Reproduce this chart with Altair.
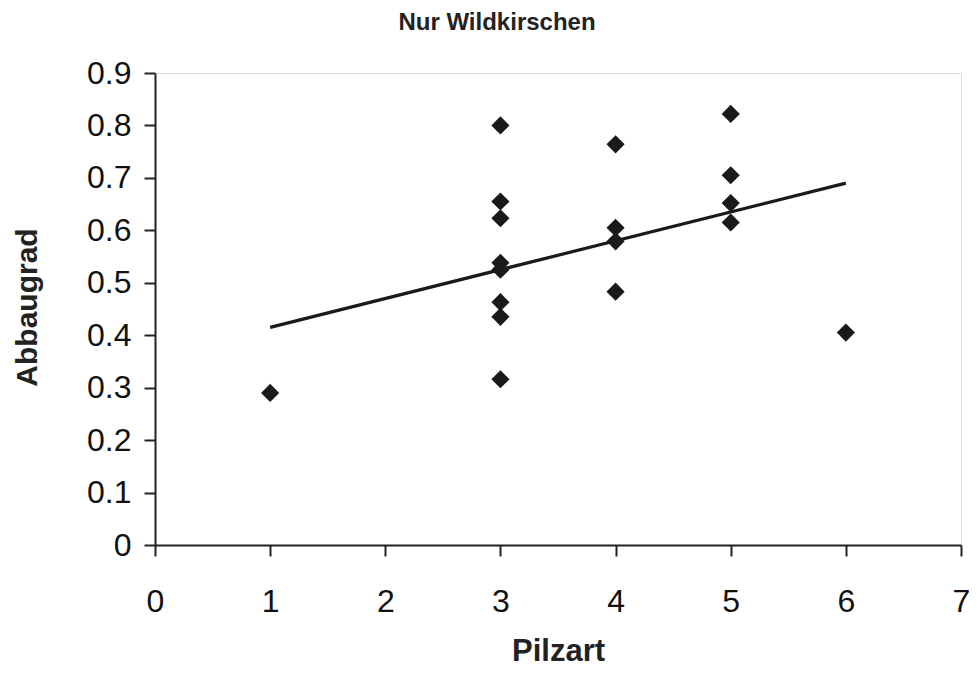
import altair as alt
import pandas as pd

pilzart = [1, 3, 3, 3, 3, 3, 3, 3, 3, 4, 4, 4, 4, 5, 5, 5, 5, 6]
abbaugrad = [0.29, 0.80, 0.655, 0.623, 0.538, 0.525, 0.463, 0.435, 0.316,
             0.764, 0.605, 0.579, 0.483, 0.822, 0.705, 0.652, 0.615, 0.405]
trend_x = [1, 6]
trend_y = [0.415, 0.69]

pts = pd.DataFrame({"Pilzart": pilzart, "Abbaugrad": abbaugrad})
trend = pd.DataFrame({"Pilzart": trend_x, "Abbaugrad": trend_y})

FONT = "Liberation Sans"
W, H = 806, 472

xscale = alt.Scale(domain=[0, 7], nice=False, zero=True)
yscale = alt.Scale(domain=[0, 0.9], nice=False, zero=True)

xaxis = alt.Axis(title="Pilzart", values=list(range(0, 8)), format="d", grid=False,
                 domainColor="#222", domainWidth=2, tickColor="#222", tickWidth=2, tickSize=11,
                 labelFont=FONT, labelFontSize=32, labelColor="#111", labelPadding=30,
                 labelFlush=False, titleFont=FONT, titleFontSize=31, titleFontWeight="bold",
                 titleColor="#222", titleX=W / 2, titleY=106, titleBaseline="middle",
                 titleAlign="center")
yaxis = alt.Axis(title="Abbaugrad", values=[i / 10 for i in range(0, 10)], format=".1~f",
                 grid=False, domainColor="#222", domainWidth=2, tickColor="#222", tickWidth=2,
                 tickSize=11, labelFont=FONT, labelFontSize=32, labelColor="#111", labelPadding=13,
                 labelFlush=False, titleFont=FONT, titleFontSize=30, titleFontWeight="bold",
                 titleColor="#222", titleX=-128, titleY=H / 2 - 2, titleBaseline="middle",
                 titleAlign="center", titleAngle=270)

points = alt.Chart(pts).mark_point(shape="diamond", filled=True, size=330, color="#1a1a1a",
                                   opacity=1).encode(
    x=alt.X("Pilzart:Q", scale=xscale, axis=xaxis),
    y=alt.Y("Abbaugrad:Q", scale=yscale, axis=yaxis),
)
line = alt.Chart(trend).mark_line(color="#1a1a1a", strokeWidth=3.2).encode(
    x=alt.X("Pilzart:Q", scale=xscale),
    y=alt.Y("Abbaugrad:Q", scale=yscale),
)

chart = (points + line).properties(
    width=W, height=H,
    title=alt.TitleParams("Nur Wildkirschen", font=FONT, fontSize=24, fontWeight="bold",
                          color="#222", anchor="middle", offset=22, dx=-61),
    autosize=alt.AutoSizeParams(type="none"),
    padding={"left": 147, "top": 65, "right": 8, "bottom": 124},
).configure_view(stroke=None).configure(background="white")

chart.save("out.html", embed_options={"renderer": "svg", "actions": False})
